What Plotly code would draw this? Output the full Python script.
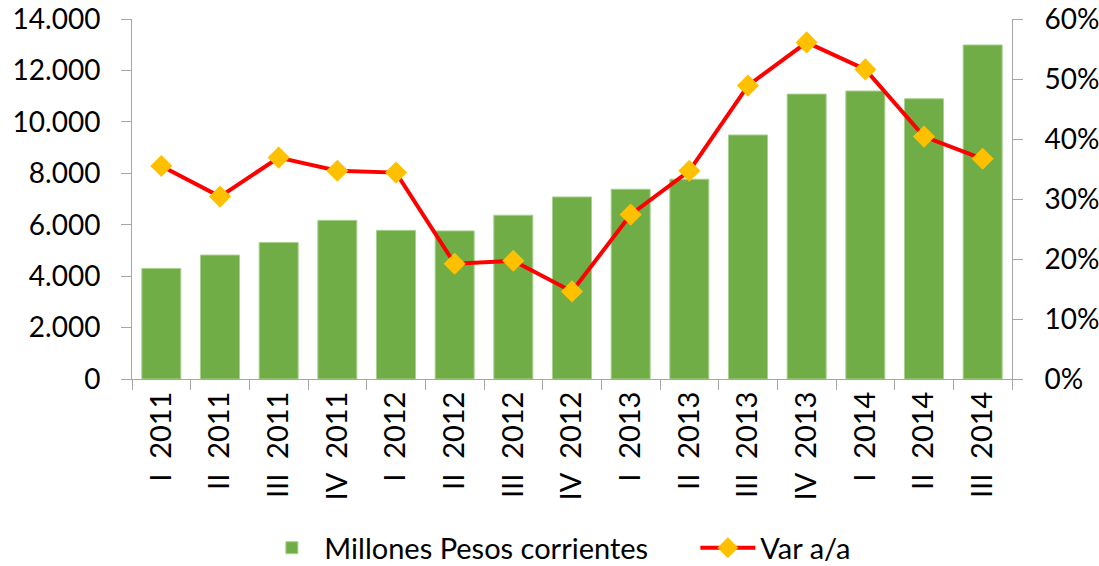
import plotly.graph_objects as go

categories = ["I  2011", "II  2011", "III  2011", "IV  2011",
              "I  2012", "II  2012", "III  2012", "IV  2012",
              "I  2013", "II  2013", "III  2013", "IV  2013",
              "I  2014", "II  2014", "III  2014"]
millones = [4300, 4820, 5310, 6170, 5780, 5760, 6370, 7080,
            7380, 7770, 9490, 11080, 11200, 10900, 12990]
var_aa = [35.5, 30.4, 36.9, 34.7, 34.4, 19.2, 19.7, 14.6,
          27.4, 34.7, 48.9, 56.1, 51.6, 40.4, 36.7]

FONT = "Lato"
AX = "#A6A6A6"
FS = 29
YFS = 28

fig = go.Figure()
fig.add_trace(go.Bar(
    x=categories, y=millones, name="Millones Pesos corrientes",
    marker=dict(color="#70AD47", line=dict(color="#A9D18E", width=1)),
    yaxis="y",
))
fig.add_trace(go.Scatter(
    x=categories, y=var_aa, name="Var a/a", mode="lines+markers",
    line=dict(color="#FF0000", width=4),
    marker=dict(symbol="diamond", size=17, color="#FFC000",
                line=dict(width=0)),
    yaxis="y2",
))

fig.update_layout(
    width=1099, height=566,
    margin=dict(l=132, r=87, t=19, b=187, autoexpand=False),
    paper_bgcolor="white", plot_bgcolor="white",
    separators=",.",
    font=dict(family=FONT, size=FS, color="#000000"),
    bargap=0.335,
    showlegend=True,
    legend=dict(orientation="h", xref="container", x=0.236, xanchor="left",
                yref="container", y=0.032, yanchor="middle",
                font=dict(size=FS), itemwidth=55, traceorder="normal",
                entrywidth=366, entrywidthmode="pixels"),
    xaxis=dict(
        type="category", range=[-0.5, 14.5], tickangle=-90, showline=True,
        linecolor=AX, linewidth=1, ticks="outside", tickson="boundaries",
        ticklen=10, tickcolor=AX, showgrid=False, tickfont=dict(size=FS),
        automargin=False, ticklabeloverflow="allow",
    ),
    yaxis=dict(
        range=[0, 14000], dtick=2000, tickformat=",", showline=True,
        linecolor=AX, ticks="outside", ticklen=10, tickcolor=AX,
        showgrid=False, zeroline=False, tickfont=dict(size=YFS),
        automargin=False, ticklabeloverflow="allow", ticklabelstandoff=15,
    ),
    yaxis2=dict(
        range=[0, 60], dtick=10, ticksuffix="%", overlaying="y",
        side="right", showline=True, linecolor=AX, ticks="outside",
        ticklen=10, tickcolor=AX, showgrid=False, zeroline=False,
        tickfont=dict(size=YFS), automargin=False,
        ticklabeloverflow="allow", ticklabelstandoff=16,
    ),
)

fig.write_html("out.html", post_script="document.body.style.margin='0';",
               config={"displayModeBar": False})
